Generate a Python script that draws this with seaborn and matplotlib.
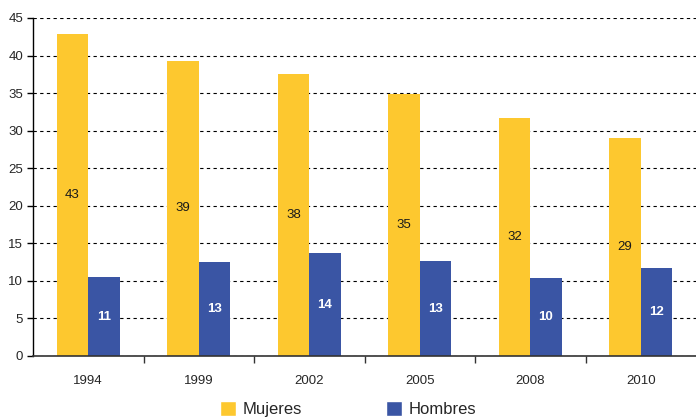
import pandas as pd
import matplotlib.pyplot as plt
import seaborn as sns
from matplotlib.ticker import FixedLocator
from matplotlib.patches import Patch

anios = ['1994', '1999', '2002', '2005', '2008', '2010']
mujeres = [42.9, 39.3, 37.5, 34.9, 31.7, 29.0]
hombres = [10.5, 12.5, 13.7, 12.6, 10.4, 11.7]
etiq_mujeres = ['43', '39', '38', '35', '32', '29']
etiq_hombres = ['11', '13', '14', '13', '10', '12']

colores = {'Mujeres': '#fdc82f', 'Hombres': '#3a55a4'}

df = pd.DataFrame({
    'anio': anios * 2,
    'valor': mujeres + hombres,
    'sexo': ['Mujeres'] * len(anios) + ['Hombres'] * len(anios),
})

sns.set_theme(style="white")
plt.rcParams['font.family'] = ['Liberation Sans', 'DejaVu Sans']

fig = plt.figure(figsize=(6.96, 4.17), dpi=100)
ax = fig.add_axes([33 / 696, 1 - 356 / 417, 1 - 33 / 696, (356 - 18) / 417])

sns.barplot(data=df, x='anio', y='valor', hue='sexo', palette=colores,
            width=0.57, saturation=1, linewidth=0, legend=False, ax=ax)

ax.bar_label(ax.containers[0], labels=etiq_mujeres, label_type='center',
             fontsize=9.5, color='#1a1a1a')
ax.bar_label(ax.containers[1], labels=etiq_hombres, label_type='center',
             fontsize=9.5, color='white', fontweight='bold')

ax.set_ylim(0, 45)
ax.set_xlim(-0.5, len(anios) - 0.5)
ax.set_yticks(range(0, 46, 5))
ax.yaxis.grid(True, linestyle=(0, (3, 3)), color='black', linewidth=0.8)
ax.set_axisbelow(True)

ax.xaxis.set_minor_locator(FixedLocator([i + 0.5 for i in range(len(anios) - 1)]))
ax.tick_params(axis='x', which='major', length=0, labelsize=9.5, pad=14)
ax.tick_params(axis='x', which='minor', bottom=True, length=5, width=1, color='#333333')
ax.tick_params(axis='y', left=True, length=4, width=1, color='black', labelsize=9.5, pad=3)

for s in ['top', 'right']:
    ax.spines[s].set_visible(False)
ax.spines['left'].set_color('black')
ax.spines['bottom'].set_color('#333333')
ax.spines['left'].set_linewidth(1)
ax.spines['bottom'].set_linewidth(1.2)
ax.set_xlabel('')
ax.set_ylabel('')

handles = [Patch(facecolor=colores[k], label=k) for k in ['Mujeres', 'Hombres']]
fig.legend(handles=handles, loc='upper center', bbox_to_anchor=(0.5, 1 - 401 / 417),
           ncol=2, frameon=False, fontsize=12, handlelength=0.97, handleheight=0.97,
           handletextpad=0.4, columnspacing=5.0, borderaxespad=0, borderpad=0)

fig.savefig('out.png', dpi=100)
